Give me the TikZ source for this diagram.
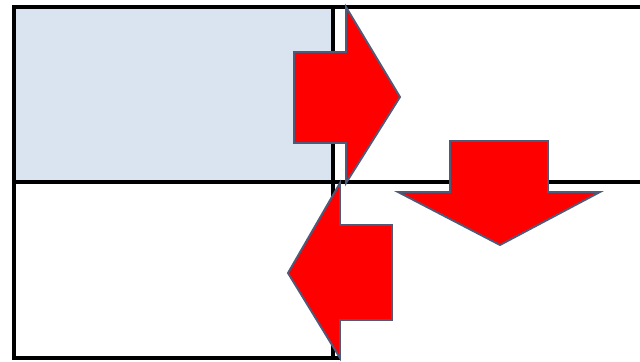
\documentclass[tikz,border=0pt]{standalone}
\usepackage{tikz}
\usepackage{xcolor}
\definecolor{cellblue}{RGB}{218,227,240}
\definecolor{arrowred}{RGB}{255,0,0}
\definecolor{arrowedge}{RGB}{80,90,120}

\begin{document}
\begin{tikzpicture}[x=0.2mm,y=-0.2mm,
  gridline/.style={draw=black,line width=2pt},
  cell/.style={fill=cellblue},
  blockarrow/.style={fill=arrowred,draw=arrowedge,line width=1.1pt,line join=miter}
]
  \useasboundingbox (0,0) rectangle (640,361);
  % Shaded cell
  \fill[cell] (14,7) rectangle (333,182);
  % Grid
  \draw[gridline] (640,7) -- (14,7) -- (14,358) -- (340,358);
  \draw[gridline] (14,182) -- (640,182);
  \draw[gridline] (333,7) -- (333,358);
  % Right arrow
  \draw[blockarrow] (294,52) -- (346,52) -- (346,7) -- (400,97) -- (346,183)
    -- (346,143) -- (294,143) -- cycle;
  % Down arrow
  \draw[blockarrow] (450,141) -- (548,141) -- (548,192) -- (600,192) -- (500,245)
    -- (398,192) -- (450,192) -- cycle;
  % Left arrow
  \draw[blockarrow] (392,225) -- (340,225) -- (340,183) -- (288,273) -- (340,358)
    -- (340,320) -- (392,320) -- cycle;
\end{tikzpicture}
\end{document}
